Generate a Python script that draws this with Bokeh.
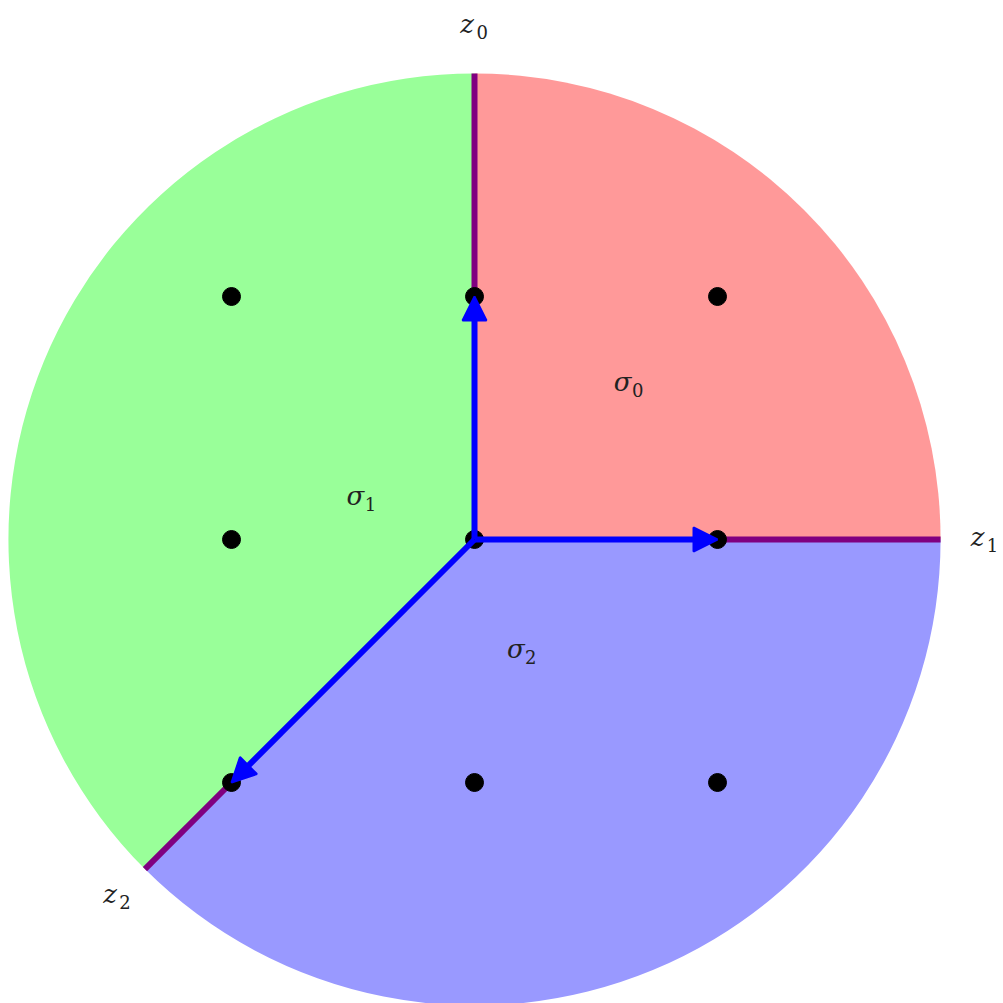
import math
from bokeh.plotting import figure
from bokeh.models import Range1d, Arrow, NormalHead, ColumnDataSource
from bokeh.core.properties import value
from bokeh.embed import file_html
from bokeh.resources import INLINE

# ---- data ----
R = 1.918  # disc radius (data units)
cone_names = ["sigma0", "sigma1", "sigma2"]
cone_start_deg = [0, 90, 225]
cone_end_deg = [90, 225, 360]
cone_colors = ["#FF9999", "#99FF99", "#9999FF"]

# ray generators v0, v1, v2
ray_x = [0, 1, -1]
ray_y = [1, 0, -1]

# lattice points
pts_x = [-1, 0, 1, -1, 0, 1, -1, 0, 1]
pts_y = [1, 1, 1, 0, 0, 0, -1, -1, -1]

# labels: main symbol, subscript, position
lab_main = ["z", "z", "z", "σ", "σ", "σ"]
lab_sub = ["0", "1", "2", "0", "1", "2"]
lab_x = [-0.03, 2.07, -1.5, 0.61, -0.49, 0.17]
lab_y = [2.12, 0.01, -1.46, 0.65, 0.18, -0.45]

# ---- figure ----
scale = 243.0
W = H = 1003
x0 = -474 / scale
y1 = 539 / scale
p = figure(width=W, height=H, output_backend="svg", toolbar_location=None,
           x_range=Range1d(x0, x0 + W / scale), y_range=Range1d(y1 - H / scale, y1),
           min_border=0)
p.axis.visible = False
p.grid.visible = False
p.outline_line_color = None
p.background_fill_color = "white"
p.border_fill_color = "white"

# cones
p.wedge(x=[0, 0, 0], y=[0, 0, 0], radius=R,
        start_angle=[math.radians(a) for a in cone_start_deg],
        end_angle=[math.radians(a) for a in cone_end_deg],
        fill_color=cone_colors, line_color=None)

# purple rays from generator to the boundary
for vx, vy in zip(ray_x, ray_y):
    n = math.hypot(vx, vy)
    p.line([vx, R * vx / n], [vy, R * vy / n], line_color="#800080", line_width=6)

# blue arrows from origin to generators
for vx, vy in zip(ray_x, ray_y):
    p.add_layout(Arrow(end=NormalHead(size=24, fill_color="#0000FF", line_color="#0000FF", line_width=2),
                       x_start=0, y_start=0, x_end=vx, y_end=vy,
                       line_color="#0000FF", line_width=6))

# lattice points
p.scatter(pts_x, pts_y, size=18, fill_color="black", line_color="black")

# labels
src = ColumnDataSource(dict(x=lab_x, y=lab_y, m=lab_main, s=lab_sub))
p.text(x="x", y="y", text="m", source=src, text_font=value("DejaVu Serif"),
       text_font_style="italic", text_font_size="26px", text_align="center",
       text_baseline="middle", text_color="#222222")
p.text(x="x", y="y", text="s", source=src, text_font=value("DejaVu Serif"),
       text_font_size="18px", text_align="center", text_baseline="middle",
       x_offset=15, y_offset=8, text_color="#222222")

open("out.html", "w").write(file_html(p, INLINE))
